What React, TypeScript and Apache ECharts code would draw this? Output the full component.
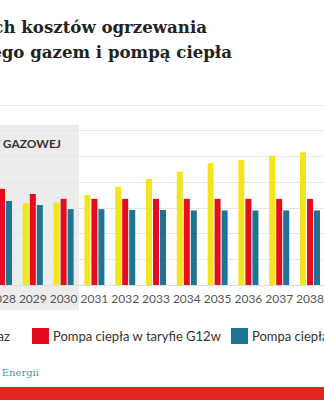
import React, { useEffect, useRef } from "react";
import * as echarts from "echarts";

const categories = ["2028", "2029", "2030", "2031", "2032", "2033", "2034", "2035", "2036", "2037", "2038"];
const gasCost = [3200, 3180, 3200, 3500, 3820, 4120, 4410, 4740, 4860, 5030, 5160];
const g12wCost = [3740, 3540, 3350, 3350, 3350, 3350, 3350, 3350, 3350, 3350, 3350];
const g11Cost = [3270, 3110, 2950, 2950, 2920, 2920, 2900, 2900, 2900, 2900, 2900];
const seriesNames = ["Gaz", "Pompa ciepła w taryfie G12w", "Pompa ciepła w taryfie G11"];
const titleLines = ["Porównanie rocznych kosztów ogrzewania", "domu jednorodzinnego gazem i pompą ciepła"];
const shadeLabel = "OKRES TARYFY GAZOWEJ";
const shadeLastCategory = "2030";
const sourceText = "Źródło: Forum Energii";

const YELLOW = "#f3e51b";
const RED = "#e30d1f";
const BLUE = "#1e7593";

export default function App() {
  const ref = useRef<HTMLDivElement>(null);
  useEffect(() => {
    if (!ref.current) return;
    const chart = echarts.init(ref.current, null, { renderer: "svg" });
    const legendBase = {
      orient: "horizontal",
      icon: "rect",
      itemWidth: 17,
      itemHeight: 16,
      itemGap: 10,
      padding: 0,
      top: 328,
      textStyle: { fontSize: 13, fontFamily: "Lato", color: "#333", padding: [0, 0, 0, -1] },
      selectedMode: false,
    };
    chart.setOption({
      animation: false,
      backgroundColor: "#fff",
      grid: { left: -13.4, right: -1.4, top: 105, bottom: 115, containLabel: false, outerBoundsMode: "none" },
      legend: [
        { ...legendBase, left: -33, data: [seriesNames[0]] },
        { ...legendBase, left: 32, data: [seriesNames[1]] },
        { ...legendBase, left: 231, data: [seriesNames[2]] },
      ],
      xAxis: {
        type: "category",
        data: categories,
        axisTick: { show: false },
        axisLine: { lineStyle: { color: "#dcdcdc" } },
        axisLabel: { color: "#555", fontSize: 12, fontFamily: "Lato", margin: 7, interval: 0, hideOverlap: false },
      },
      yAxis: {
        type: "value",
        min: 0,
        max: 7000,
        interval: 1000,
        axisLabel: { show: false },
        axisLine: { show: false },
        axisTick: { show: false },
        splitLine: { lineStyle: { color: "#e6e6e6" } },
      },
      series: [
        { name: seriesNames[0], type: "bar", data: gasCost, barWidth: 6, barGap: "17%", itemStyle: { color: YELLOW } },
        { name: seriesNames[1], type: "bar", data: g12wCost, barWidth: 6, barGap: "17%", itemStyle: { color: RED } },
        { name: seriesNames[2], type: "bar", data: g11Cost, barWidth: 6, barGap: "17%", itemStyle: { color: BLUE } },
      ],
    });
    const idx = categories.indexOf(shadeLastCategory);
    const cx = chart.convertToPixel({ xAxisIndex: 0 }, categories[idx]) as number;
    const nx = chart.convertToPixel({ xAxisIndex: 0 }, categories[idx + 1]) as number;
    const boundary = (cx + nx) / 2;
    chart.setOption({
      graphic: [
        { type: "rect", z: -10, shape: { x: -20, y: 125, width: boundary + 20, height: 185 }, style: { fill: "#ececec" } },
        { type: "text", z: 10, x: 61, y: 143, style: { text: shadeLabel, textAlign: "right", textVerticalAlign: "middle", font: "bold 12px Lato", fill: "#333" } },
        { type: "text", x: 207, y: 27, style: { text: titleLines[0], textAlign: "right", textVerticalAlign: "middle", font: "bold 16.6px 'DejaVu Serif'", fill: "#222" } },
        { type: "text", x: 232, y: 52, style: { text: titleLines[1], textAlign: "right", textVerticalAlign: "middle", font: "bold 16.6px 'DejaVu Serif'", fill: "#222" } },
        { type: "text", x: 39, y: 372, style: { text: sourceText, textAlign: "right", textVerticalAlign: "middle", font: "10px 'DejaVu Serif'", fill: "#4a98a8" } },
        { type: "rect", shape: { x: 0, y: 387, width: 324, height: 13 }, style: { fill: "#e42520" } },
      ],
    });
    return () => chart.dispose();
  }, []);
  return (
    <div style={{ position: "absolute", left: 0, top: 0, width: 324, height: 400, overflow: "hidden" }}>
      <div ref={ref} style={{ width: 324, height: 400 }} />
    </div>
  );
}
